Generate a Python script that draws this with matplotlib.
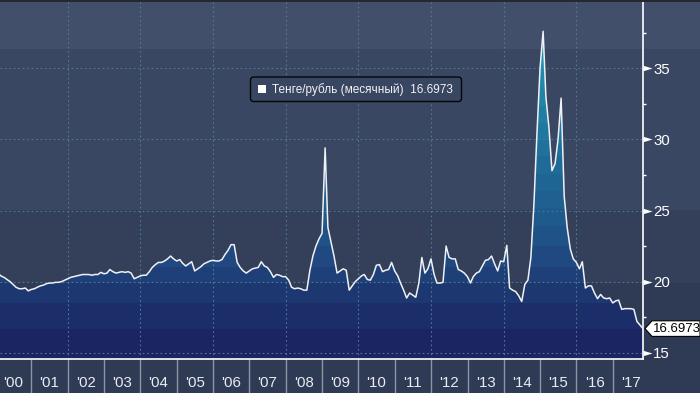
import numpy as np
import pandas as pd
import matplotlib
matplotlib.use('Agg')
import matplotlib.pyplot as plt
from matplotlib.patches import FancyBboxPatch, Rectangle, Polygon
from matplotlib.transforms import blended_transform_factory

plt.rcParams['font.family'] = ['Liberation Sans', 'DejaVu Sans']
NARROW = ['Liberation Sans Narrow', 'Liberation Sans', 'DejaVu Sans']

# monthly values (month-end), Jan 2000 .. Oct 2017
vals_2000 = [20.6, 20.4, 20.3, 20.15, 20.0, 19.8, 19.6, 19.5, 19.5, 19.55, 19.35, 19.45]
vals_2001 = [19.5, 19.6, 19.7, 19.75, 19.85, 19.9, 19.9, 19.95, 19.95, 20.0, 20.1, 20.2]
vals_2002 = [20.3, 20.35, 20.4, 20.45, 20.5, 20.5, 20.5, 20.45, 20.5, 20.5, 20.65, 20.55]
vals_2003 = [20.6, 20.85, 20.7, 20.6, 20.65, 20.7, 20.65, 20.7, 20.6, 20.2, 20.3, 20.4]
vals_2004 = [20.45, 20.45, 20.7, 21.0, 21.2, 21.35, 21.35, 21.45, 21.6, 21.8, 21.6, 21.45]
vals_2005 = [21.55, 21.3, 21.1, 21.25, 21.4, 20.75, 20.9, 21.05, 21.25, 21.35, 21.45, 21.5]
vals_2006 = [21.45, 21.45, 21.55, 21.9, 22.2, 22.6, 22.6, 21.35, 21.0, 20.75, 20.6, 20.75]
vals_2007 = [20.9, 20.95, 21.0, 21.4, 21.1, 21.0, 20.7, 20.3, 20.5, 20.45, 20.35, 20.35]
vals_2008 = [20.1, 19.6, 19.5, 19.55, 19.5, 19.4, 19.4, 20.8, 21.8, 22.5, 23.0, 23.4]
vals_2009 = [29.4, 23.8, 22.8, 21.8, 20.6, 20.75, 20.9, 20.8, 19.4, 19.7, 20.0, 20.2]
vals_2010 = [20.4, 20.5, 20.15, 20.1, 20.5, 21.15, 21.2, 20.7, 20.8, 20.85, 21.35, 20.75]
vals_2011 = [20.4, 19.9, 19.4, 18.85, 19.2, 19.05, 18.9, 19.9, 21.7, 20.6, 20.9, 21.6]
vals_2012 = [20.5, 19.9, 19.9, 19.95, 22.5, 21.7, 21.6, 21.6, 20.85, 20.75, 20.6, 20.35]
vals_2013 = [19.9, 20.35, 20.6, 20.7, 21.1, 21.5, 21.55, 21.8, 21.25, 20.75, 21.45, 21.4]
vals_2014 = [22.55, 19.55, 19.4, 19.3, 19.0, 18.6, 19.8, 20.1, 21.7, 25.5, 30.4, 35.0]
vals_2015 = [37.6, 33.0, 30.8, 27.8, 28.3, 30.0, 32.9, 26.0, 23.8, 22.3, 21.6, 21.35]
vals_2016 = [20.9, 21.4, 19.55, 19.7, 19.7, 19.2, 18.8, 19.1, 18.85, 18.8, 18.85, 18.5]
vals_2017 = [18.65, 18.7, 18.05, 18.1, 18.1, 18.1, 18.05, 17.2, 16.95, 16.6973]

years = list(range(2000, 2018))
year_labels = ["'00", "'01", "'02", "'03", "'04", "'05", "'06", "'07", "'08",
               "'09", "'10", "'11", "'12", "'13", "'14", "'15", "'16", "'17"]
y_ticks = [15, 20, 25, 30, 35]
y_minor = [17.5, 22.5, 27.5, 32.5, 37.5]
legend_label = 'Тенге/рубль (месячный)'
last_value = 16.6973

# colour bands of the area fill (value units)
band_edges = [14.0, 16.7, 18.5, 19.9, 21.05, 22.5, 23.9, 25.15, 26.4, 27.6, 28.8,
              29.95, 31.15, 32.35, 33.55, 34.75, 35.95, 37.15, 40.0]
band_colors = ['#1b2561', '#1c2e69', '#1d3770', '#1e3f77', '#1f4980', '#1f5287',
               '#1f5a8c', '#1f6090', '#1f6594', '#1f6b98', '#20719c', '#2077a0',
               '#217da4', '#2283a8', '#2289ac', '#238fb0', '#2495b4', '#259bb8']
# background bands (figure pixel rows from the top)
bg_rows = [(0, 49, '#424f6b'), (49, 210, '#3a4763'), (210, 283, '#343f5a'),
           (283, 393, '#2f3a55')]

values = np.array(vals_2000 + vals_2001 + vals_2002 + vals_2003 + vals_2004 +
                  vals_2005 + vals_2006 + vals_2007 + vals_2008 + vals_2009 +
                  vals_2010 + vals_2011 + vals_2012 + vals_2013 + vals_2014 +
                  vals_2015 + vals_2016 + vals_2017)
dates = pd.date_range('2000-01-31', periods=len(values), freq='ME')

fig = plt.figure(figsize=(7, 3.93), dpi=100)

bg = fig.add_axes([0, 0, 1, 1])
bg.set_xlim(0, 700)
bg.set_ylim(393, 0)
bg.axis('off')
for top, bot, c in bg_rows:
    bg.axhspan(top, bot, color=c, lw=0)

ax = fig.add_axes([0, 34 / 393, 643 / 700, 359 / 393])
ax.set_facecolor('none')
ax.set_xlim(pd.Timestamp('2000-02-20'), dates[-1])
ax.set_ylim(14.56, 39.8)

# banded area under the line
poly = ax.fill_between(dates, 14.0, values, facecolor='none', lw=0)
clip = poly.get_paths()[0]
for lo, hi, c in zip(band_edges[:-1], band_edges[1:], band_colors):
    span = ax.axhspan(lo, hi, facecolor=c, lw=0, zorder=1)
    span.set_clip_path(clip, ax.transData)

grid_kw = dict(color='#4f7a93', ls=(0, (1.5, 2.5)), lw=0.8, zorder=2)
for v in y_ticks:
    ax.axhline(v, **grid_kw)
for y in years[2::2]:
    if y <= 2016:
        ax.axvline(pd.Timestamp(f'{y}-01-01'), **grid_kw)

ax.plot(dates, values, color='#eef1f5', lw=1.1, zorder=3)

for s in ['top', 'left']:
    ax.spines[s].set_visible(False)
for s in ['right', 'bottom']:
    ax.spines[s].set_color('white')
    ax.spines[s].set_linewidth(1.2)

# x axis: year separators + labels in the middle of each year
ax.set_xticks([pd.Timestamp(f'{y}-01-01') for y in years[1:]])
ax.set_xticklabels([])
ax.set_xticks([pd.Timestamp(f'{y}-07-01') for y in years], minor=True)
ax.set_xticklabels(year_labels, minor=True, family=NARROW)
ax.tick_params(axis='x', which='major', direction='out', length=25, width=1,
               color='#8e95a5')
ax.tick_params(axis='x', which='minor', length=0, pad=12.5, labelsize=10.8,
               labelcolor='#e8ecf2')

# y axis on the right
ax.yaxis.tick_right()
ax.set_yticks(y_ticks)
ax.set_yticklabels([str(v) for v in y_ticks], family=NARROW)
ax.set_yticks(y_minor, minor=True)
ax.tick_params(axis='y', which='major', length=0, pad=7.3, labelsize=10.8,
               labelcolor='white')
ax.tick_params(axis='y', which='minor', direction='out', length=2.5, width=1,
               color='white')
tri = blended_transform_factory(ax.transAxes, ax.transData)
ax.plot([1.0] * len(y_ticks), y_ticks, ls='none',
        marker=[(0, -0.3), (1, 0), (0, 0.3)], ms=13, mew=0,
        color='white', transform=tri, clip_on=False, zorder=5)

# overlay: legend box, last value tag
ov = fig.add_axes([0, 0, 1, 1], zorder=10)
ov.set_xlim(0, 700)
ov.set_ylim(393, 0)
ov.axis('off')
ov.axhspan(0, 1.5, color='#25292f', lw=0)

ov.add_patch(FancyBboxPatch((250.5, 77), 211, 24.5,
                            boxstyle='round,pad=0,rounding_size=3',
                            fc='#394662', ec='black', lw=1, alpha=0.92))
ov.add_patch(Rectangle((258, 84.5), 8, 8, fc='white', ec='none'))
ov.text(272, 89.5, f'{legend_label}  {last_value}', color='#f2f2f2',
        fontsize=8.5, va='center', ha='left')

yc = ov.transData.inverted().transform(
    ax.transData.transform((ax.get_xlim()[1], last_value)))[1]
ov.add_patch(Polygon([(645, yc), (652, yc - 7.8), (700, yc - 7.8),
                      (700, yc + 7.8), (652, yc + 7.8)], closed=True,
                     fc='white', ec='black', lw=0.8))
ov.text(652.5, yc, f'{last_value}', color='black', fontsize=9.5,
        va='center', ha='left')

fig.savefig('out.png', dpi=100)
